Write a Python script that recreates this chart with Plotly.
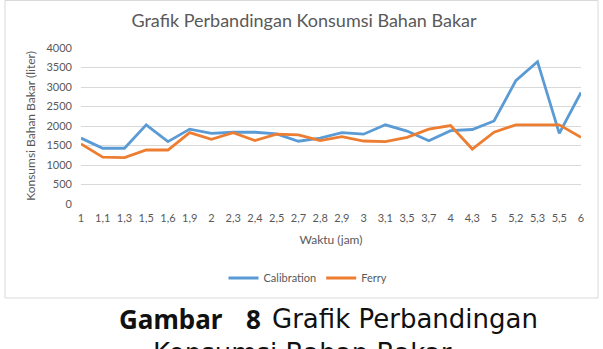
import plotly.graph_objects as go

categories = ["1", "1,1", "1,3", "1,5", "1,6", "1,9", "2", "2,3", "2,4", "2,5", "2,7", "2,8",
              "2,9", "3", "3,1", "3,5", "3,7", "4", "4,3", "5", "5,2", "5,3", "5,5", "6"]
calibration = [1690, 1430, 1430, 2030, 1600, 1920, 1810, 1840, 1840, 1800, 1610, 1690,
               1830, 1790, 2030, 1870, 1620, 1880, 1910, 2130, 3160, 3650, 1810, 2860]
ferry = [1540, 1200, 1190, 1385, 1385, 1830, 1660, 1830, 1625, 1790, 1770, 1625,
         1725, 1615, 1600, 1710, 1920, 2010, 1410, 1840, 2030, 2030, 2030, 1710]

BLUE = "#5B9BD5"
ORANGE = "#ED7D31"
GRAY = "#595959"
CHART_FONT = "Lato"

L, R, T, B = 81, 581, 48, 204
W, H = 603, 349

def px_x(p):
    return (p - L) / (R - L)

def px_y(p):
    return (B - p) / (B - T)

fig = go.Figure()
fig.add_trace(go.Scatter(x=categories, y=calibration, name="Calibration", mode="lines",
                         line=dict(color=BLUE, width=2.8)))
fig.add_trace(go.Scatter(x=categories, y=ferry, name="Ferry", mode="lines",
                         line=dict(color=ORANGE, width=2.8)))

fig.update_layout(
    width=W, height=H,
    margin=dict(l=L, r=W - R, t=T, b=H - B, pad=0),
    paper_bgcolor="white", plot_bgcolor="white",
    font=dict(family=CHART_FONT, color=GRAY, size=11),
    showlegend=True,
    legend=dict(orientation="h", x=px_x(308), xanchor="center", y=px_y(278), yanchor="middle",
                font=dict(family=CHART_FONT, size=11, color=GRAY), itemwidth=30,
                tracegroupgap=0),
    xaxis=dict(type="category", range=[0, len(categories) - 1], showgrid=False, zeroline=False,
               showline=False, ticks="", tickfont=dict(size=11, color=GRAY), tickangle=0,
               ticklabelstandoff=6,
               title=dict(text="Waktu (jam)", font=dict(size=12, color=GRAY), standoff=12)),
    yaxis=dict(range=[0, 4000], dtick=500, showgrid=True, gridcolor="#d9d9d9", gridwidth=1,
               zeroline=False, showline=False, ticks="", tickfont=dict(size=11, color=GRAY),
               ticklabelstandoff=8,
               title=dict(text="Konsumsi Bahan Bakar (liter)", font=dict(size=12, color=GRAY),
                          standoff=8)),
)

fig.update_layout(title=dict(text="Grafik Perbandingan Konsumsi Bahan Bakar",
                             font=dict(family=CHART_FONT, size=18, color=GRAY),
                             x=px_x(304), xanchor="center", xref="paper",
                             y=1 - 21 / H, yanchor="middle", yref="container"))

# chart border box
fig.add_shape(type="rect", xref="paper", yref="paper",
              x0=px_x(5), x1=px_x(598), y0=px_y(298), y1=px_y(0.5),
              line=dict(color="#d9d9d9", width=1), fillcolor="rgba(0,0,0,0)", layer="below")

# caption
CAP_COLOR = "#111111"
fig.add_annotation(xref="paper", yref="paper", x=px_x(117), y=px_y(319), xanchor="left",
                   yanchor="middle", showarrow=False, text="<b>Gambar</b>",
                   font=dict(family="Noto Sans", size=26, color=CAP_COLOR))
fig.add_annotation(xref="paper", yref="paper", x=px_x(244), y=px_y(319), xanchor="left",
                   yanchor="middle", showarrow=False, text="<b>8</b>",
                   font=dict(family="Noto Sans", size=26, color=CAP_COLOR))
fig.add_annotation(xref="paper", yref="paper", x=px_x(270), y=px_y(319), xanchor="left",
                   yanchor="middle", showarrow=False, text="Grafik Perbandingan",
                   font=dict(family="DejaVu Sans", size=26, color=CAP_COLOR))
fig.add_annotation(xref="paper", yref="paper", x=px_x(151), y=px_y(353), xanchor="left",
                   yanchor="middle", showarrow=False, text="Konsumsi Bahan Bakar",
                   font=dict(family="DejaVu Sans", size=26, color=CAP_COLOR))

fig.write_html("out.html")
